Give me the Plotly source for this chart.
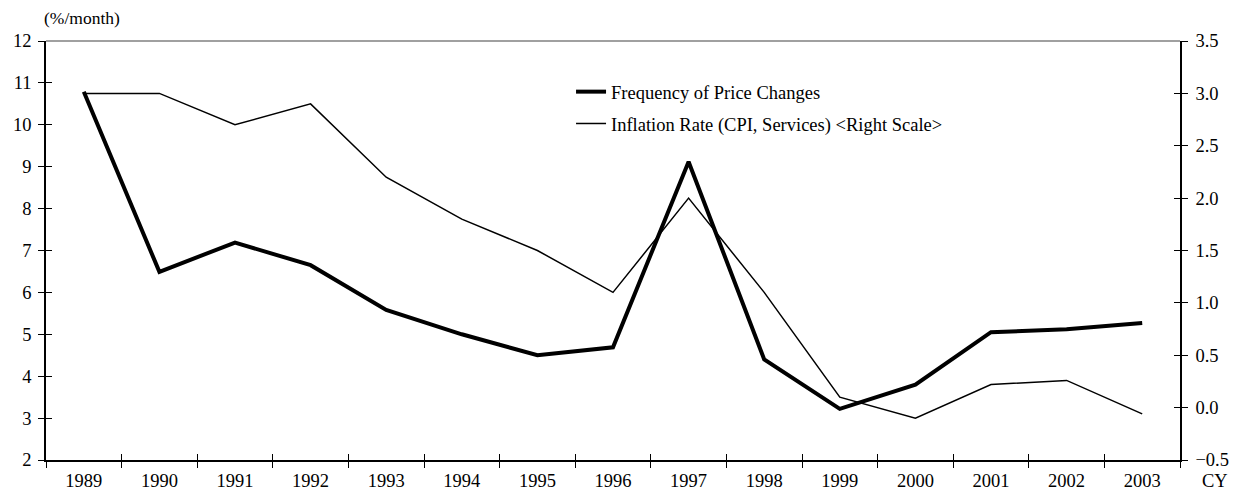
import plotly.graph_objects as go

years = ["1989", "1990", "1991", "1992", "1993", "1994", "1995", "1996",
         "1997", "1998", "1999", "2000", "2001", "2002", "2003"]
freq = [10.79, 6.49, 7.19, 6.65, 5.58, 5.0, 4.5, 4.69, 9.12, 4.4, 3.22, 3.8, 5.05, 5.12, 5.27]
inflation = [3.0, 3.0, 2.7, 2.9, 2.2, 1.8, 1.5, 1.1, 2.0, 1.1, 0.1, -0.1, 0.22, 0.26, -0.06]

freq_name = "Frequency of Price Changes"
infl_name = "Inflation Rate (CPI, Services) <Right Scale>"

FONT = "Liberation Serif, Times New Roman, serif"
FS = 18.5

fig = go.Figure()
fig.add_trace(go.Scatter(x=years, y=freq, mode="lines", name=freq_name,
                         line=dict(color="black", width=4), yaxis="y", legend="legend"))
fig.add_trace(go.Scatter(x=years, y=inflation, mode="lines", name=infl_name,
                         line=dict(color="black", width=1.5), yaxis="y2", legend="legend2"))

common_x = dict(type="category", range=[-0.5, 14.5], tickson="boundaries", automargin=False,
                ticklen=6, tickcolor="black", tickwidth=1, showgrid=False, zeroline=False)
common_y = dict(automargin=False, ticklen=6, tickcolor="black", showgrid=False, zeroline=False)
fig.update_layout(
    width=1232, height=490,
    margin=dict(l=38, r=60, t=33, b=38, autoexpand=False),
    paper_bgcolor="white", plot_bgcolor="white",
    font=dict(family=FONT, size=FS, color="black"),
    xaxis=dict(**common_x, ticks="outside", showline=True, linecolor="black", linewidth=1.5,
               tickfont=dict(size=FS), ticklabelstandoff=3),
    xaxis2=dict(**common_x, ticks="inside", overlaying="x", anchor="y", side="bottom",
                showticklabels=False, showline=False),
    yaxis=dict(**common_y, range=[2, 12], dtick=1, tick0=2, ticks="outside",
               showline=True, linecolor="black", linewidth=1.5, tickfont=dict(size=FS),
               ticklabelstandoff=3),
    yaxis3=dict(**common_y, range=[2, 12], dtick=1, tick0=2, ticks="inside",
                overlaying="y", anchor="x", side="left", showticklabels=False, showline=False),
    yaxis2=dict(**common_y, range=[-0.5, 3.5], dtick=0.5, tick0=-0.5, tickformat=".1f",
                ticks="outside", overlaying="y", side="right", anchor="x",
                showline=True, linecolor="black", linewidth=1.5, tickfont=dict(size=FS),
                ticklabelstandoff=4),
    yaxis4=dict(**common_y, range=[-0.5, 3.5], dtick=0.5, tick0=-0.5, ticks="inside",
                overlaying="y", side="right", anchor="x", showticklabels=False, showline=False),
    legend=dict(x=0.463, y=0.878, xanchor="left", yanchor="middle", bgcolor="rgba(0,0,0,0)",
                font=dict(size=FS)),
    legend2=dict(x=0.463, y=0.802, xanchor="left", yanchor="middle", bgcolor="rgba(0,0,0,0)",
                 font=dict(size=FS)),
    showlegend=True,
)
# invisible traces so the overlay axes are drawn
fig.add_trace(go.Scatter(x=years, y=[None]*len(years), xaxis="x2", yaxis="y3",
                         showlegend=False, hoverinfo="skip"))
fig.add_trace(go.Scatter(x=years, y=[None]*len(years), xaxis="x2", yaxis="y4",
                         showlegend=False, hoverinfo="skip"))

fig.add_shape(type="line", xref="paper", yref="paper", x0=0, x1=1, y0=1, y1=1,
              line=dict(color="#808080", width=1.5))
fig.add_annotation(text="(%/month)", xref="paper", yref="paper", x=0.032, y=1.055,
                   xanchor="center", yanchor="middle", showarrow=False, font=dict(size=FS - 1))
fig.add_annotation(text="CY", xref="paper", yref="paper", x=1.0176, y=-0.05,
                   xanchor="left", yanchor="middle", showarrow=False, font=dict(size=FS))

fig.write_html("out.html")
